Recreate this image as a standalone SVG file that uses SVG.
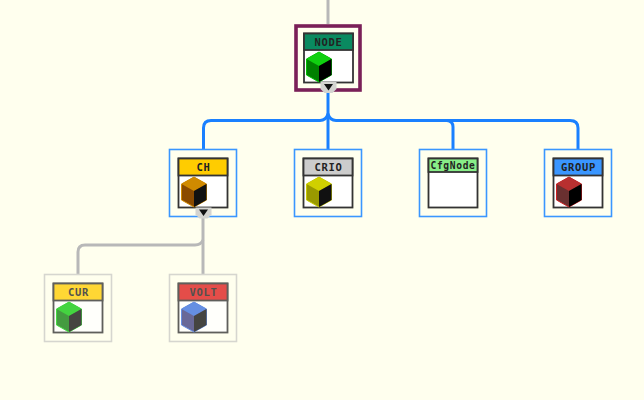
<svg xmlns="http://www.w3.org/2000/svg" xmlns:xlink="http://www.w3.org/1999/xlink" width="644" height="400" viewBox="0 0 644 400">
<style>
.sel{fill:none;stroke:#3a96ff;stroke-width:1.6}
.dim{fill:none;stroke:#d6d6cf;stroke-width:1.6}
.main{fill:none;stroke:#7a2058;stroke-width:3.6}
.body{fill:#fff;stroke:#333;stroke-width:1.8}
.hdr{stroke:#333;stroke-width:1.8}
.lbl{font-family:"DejaVu Sans Mono",monospace;font-weight:bold;font-size:10.5px;letter-spacing:.7px;text-anchor:middle;fill:#222}
.cb{fill:none;stroke:#1a80ff;stroke-width:3;stroke-linejoin:round}
.cg{fill:none;stroke:#b8b8b8;stroke-width:3;stroke-linejoin:round}
.fade{opacity:.78}
</style>
<defs>
<g id="frame">
<rect class="body" x="0" y="0" width="49" height="49"/>
</g>
<g id="handle">
<path d="M-8 0H8V7L4 11H-4L-8 7Z" fill="#d4d4d0"/>
<path d="M-4.500 2H4.500L0 8.500Z" fill="#111"/>
</g>
</defs>
<rect width="644" height="400" fill="#ffffee"/>
<g id="connectors">
<path class="cg" d="M328 0V24"/>
<path class="cb" d="M328 92V150"/>
<path class="cb" d="M203.500 149V128Q203.500 120.500 211 120.500H320Q326 120.500 328 114Q330 120.500 336 120.500H570Q578 120.500 578 128V149"/>
<path class="cb" d="M445 120.500H447Q453 121 453 127V149"/>
<path class="cg" d="M203 217V274"/>
<path class="cg" d="M78 274V252Q78 245 85 245H195Q201 245 203 240"/>
</g>
<g id="node-NODE">
<rect class="main" x="296" y="26" width="64" height="64"/>
<use xlink:href="#frame" href="#frame" x="304" y="33.500"/>
<rect class="hdr" x="304" y="33.500" width="49" height="16.500" fill="#0a8a60"/>
<text class="lbl" x="328.500" y="45.500">NODE</text>
<g transform="translate(306.500 52)">
<path d="M12.500 0L25 7V23L12.500 30L0 23V7Z" fill="#008000" stroke="#00c000"/>
<path d="M12.500 0L25 7L12.500 14L0 7Z" fill="#10d010"/>
<path d="M12.500 14L25 7V23L12.500 30Z" fill="#000"/>
</g>
<use xlink:href="#handle" href="#handle" x="328.500" y="82"/>
</g>
<g id="node-CH">
<rect class="sel" x="169.500" y="149.500" width="67" height="67"/>
<use xlink:href="#frame" href="#frame" x="178.500" y="158.500"/>
<rect class="hdr" x="178.500" y="158.500" width="49" height="17" fill="#ffcc00"/>
<text class="lbl" x="203.500" y="170.500">CH</text>
<g transform="translate(181.500 177)">
<path d="M12.500 0L25 7V23L12.500 30L0 23V7Z" fill="#8a4a00" stroke="#d08a00"/>
<path d="M12.500 0L25 7L12.500 14L0 7Z" fill="#d08a00"/>
<path d="M12.500 14L25 7V23L12.500 30Z" fill="#111"/>
</g>
<use xlink:href="#handle" href="#handle" x="203.500" y="207.500"/>
</g>
<g id="node-CRIO">
<rect class="sel" x="294.500" y="149.500" width="67" height="67"/>
<use xlink:href="#frame" href="#frame" x="303.500" y="158.500"/>
<rect class="hdr" x="303.500" y="158.500" width="49" height="17" fill="#cccccc"/>
<text class="lbl" x="328.500" y="170.500">CRIO</text>
<g transform="translate(306.500 177)">
<path d="M12.500 0L25 7V23L12.500 30L0 23V7Z" fill="#999900" stroke="#c8c800"/>
<path d="M12.500 0L25 7L12.500 14L0 7Z" fill="#d0d000"/>
<path d="M12.500 14L25 7V23L12.500 30Z" fill="#111"/>
</g>
</g>
<g id="node-CfgNode">
<rect class="sel" x="419.500" y="149.500" width="67" height="67"/>
<use xlink:href="#frame" href="#frame" x="428.500" y="158.500"/>
<rect class="hdr" x="428.500" y="158.500" width="49" height="13.500" fill="#88ee88"/>
<text class="lbl" x="453" y="168.500" textLength="45" lengthAdjust="spacingAndGlyphs">CfgNode</text>
</g>
<g id="node-GROUP">
<rect class="sel" x="544.500" y="149.500" width="67" height="67"/>
<use xlink:href="#frame" href="#frame" x="553.500" y="158.500"/>
<rect class="hdr" x="553.500" y="158.500" width="49" height="17" fill="#3a96ff"/>
<text class="lbl" x="578.500" y="170.500">GROUP</text>
<g transform="translate(556.500 177)">
<path d="M12.500 0L25 7V23L12.500 30L0 23V7Z" fill="#6a3030" stroke="#cc2020"/>
<path d="M12.500 0L25 7L12.500 14L0 7Z" fill="#b83030"/>
<path d="M12.500 14L25 7V23L12.500 30Z" fill="#000"/>
</g>
</g>
<g id="node-CUR">
<rect class="dim" x="44.500" y="274.500" width="67" height="67"/>
<g class="fade">
<use xlink:href="#frame" href="#frame" x="53.500" y="283.500"/>
<rect class="hdr" x="53.500" y="283.500" width="49" height="17" fill="#ffcc00"/>
<text class="lbl" x="78.500" y="295.500">CUR</text>
<g transform="translate(56.500 302)">
<path d="M12.500 0L25 7V23L12.500 30L0 23V7Z" fill="#108010" stroke="#10d010"/>
<path d="M12.500 0L25 7L12.500 14L0 7Z" fill="#10c810"/>
<path d="M12.500 14L25 7V23L12.500 30Z" fill="#111"/>
</g>
</g>
</g>
<g id="node-VOLT">
<rect class="dim" x="169.500" y="274.500" width="67" height="67"/>
<g class="fade">
<use xlink:href="#frame" href="#frame" x="178.500" y="283.500"/>
<rect class="hdr" x="178.500" y="283.500" width="49" height="17" fill="#dd1c1c"/>
<text class="lbl" x="203.500" y="295.500">VOLT</text>
<g transform="translate(181.500 302)">
<path d="M12.500 0L25 7V23L12.500 30L0 23V7Z" fill="#404080" stroke="#3a70e0"/>
<path d="M12.500 0L25 7L12.500 14L0 7Z" fill="#3a70e0"/>
<path d="M12.500 14L25 7V23L12.500 30Z" fill="#111"/>
</g>
</g>
</g>
</svg>
